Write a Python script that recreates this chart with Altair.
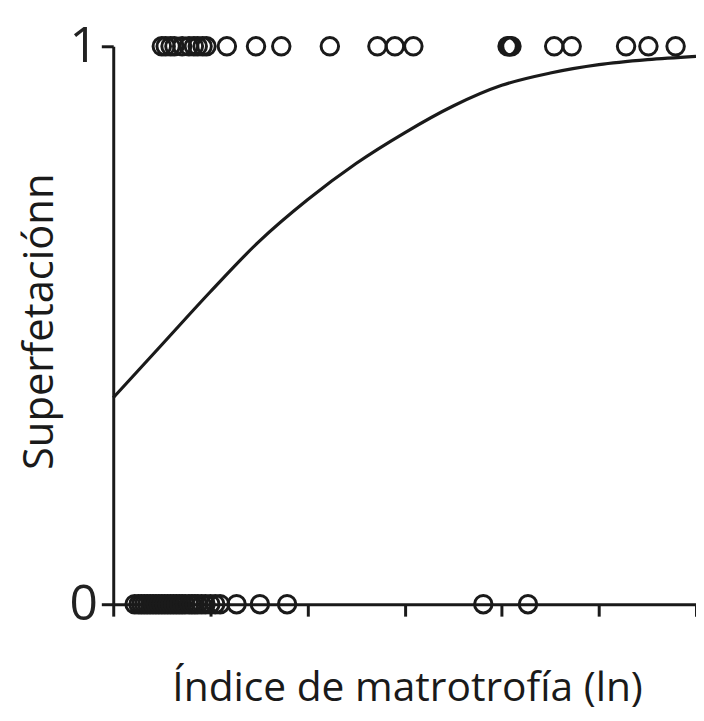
import altair as alt
import pandas as pd

# Observed points (x = matrotrophy index, y = superfetation 0/1)
x_top = [0.50, 0.54, 0.59, 0.63, 0.71, 0.78, 0.83, 0.87, 0.92, 0.96, 1.17, 1.47, 1.73,
         2.23, 2.72, 2.90, 3.09, 4.06, 4.08, 4.10, 4.54, 4.72, 5.28, 5.51, 5.79]
x_bottom = [0.22, 0.26, 0.29, 0.32, 0.35, 0.38, 0.41, 0.44, 0.47, 0.50, 0.53, 0.56, 0.59,
            0.62, 0.65, 0.68, 0.71, 0.74, 0.78, 0.81, 0.84, 0.87, 0.91, 0.95, 1.00, 1.05,
            1.10, 1.27, 1.51, 1.79, 3.81, 4.27]

# Fitted curve
curve_x = [0, 0.5, 1, 1.5, 2, 2.5, 3, 3.5, 4, 4.5, 5, 5.5, 6]
curve_y = [0.37, 0.465, 0.56, 0.65, 0.725, 0.79, 0.845, 0.893, 0.93, 0.952, 0.967, 0.976, 0.982]

x_ticks = [0, 1, 2, 3, 4, 5, 6]
y_ticks = [0, 1]

pts = pd.DataFrame({
    "x": x_top + x_bottom,
    "y": [1] * len(x_top) + [0] * len(x_bottom),
})
curve = pd.DataFrame({"x": curve_x, "y": curve_y})

FONT = "Open Sans"
INK = "#1a1a1a"

xscale = alt.Scale(domain=[0, 6], nice=False, zero=False)
yscale = alt.Scale(domain=[0, 1], nice=False)

xaxis = alt.Axis(
    values=x_ticks, labels=False, grid=False, tickSize=12, tickWidth=3,
    domainWidth=3, domainColor=INK, tickColor=INK,
    title="Índice de matrotrofía (ln)", titleFont=FONT, titleFontSize=41,
    titleFontWeight="normal", titleColor=INK,
    titleX=296, titleY=97, titleAlign="center", titleBaseline="alphabetic",
)
yaxis = alt.Axis(
    values=y_ticks, format="d", grid=False, tickSize=12, tickWidth=3,
    domainWidth=3, domainColor=INK, tickColor=INK,
    labelFont=FONT, labelFontSize=50, labelColor="#222", labelPadding=4,
    title="Superfetaciónn", titleFont=FONT, titleFontSize=42,
    titleFontWeight="normal", titleColor=INK,
    titleX=-74, titleY=277, titleAlign="center", titleBaseline="middle", titleAngle=-90,
)

points = alt.Chart(pts).mark_point(
    shape="circle", filled=False, size=310, stroke=INK, strokeWidth=3, opacity=1
).encode(
    x=alt.X("x:Q", scale=xscale, axis=xaxis),
    y=alt.Y("y:Q", scale=yscale, axis=yaxis),
)

line = alt.Chart(curve).mark_line(
    color=INK, strokeWidth=3.2, interpolate="monotone"
).encode(
    x=alt.X("x:Q", scale=xscale, axis=xaxis),
    y=alt.Y("y:Q", scale=yscale, axis=yaxis),
)

chart = alt.layer(line, points).properties(
    width=587, height=562,
    background="white",
    autosize=alt.AutoSizeParams(type="none"),
    padding={"left": 106, "top": 36, "right": 0, "bottom": 106},
).configure_view(stroke=None).configure_axis(grid=False)

chart.save("out.html", embed_options={"renderer": "svg", "actions": False})
